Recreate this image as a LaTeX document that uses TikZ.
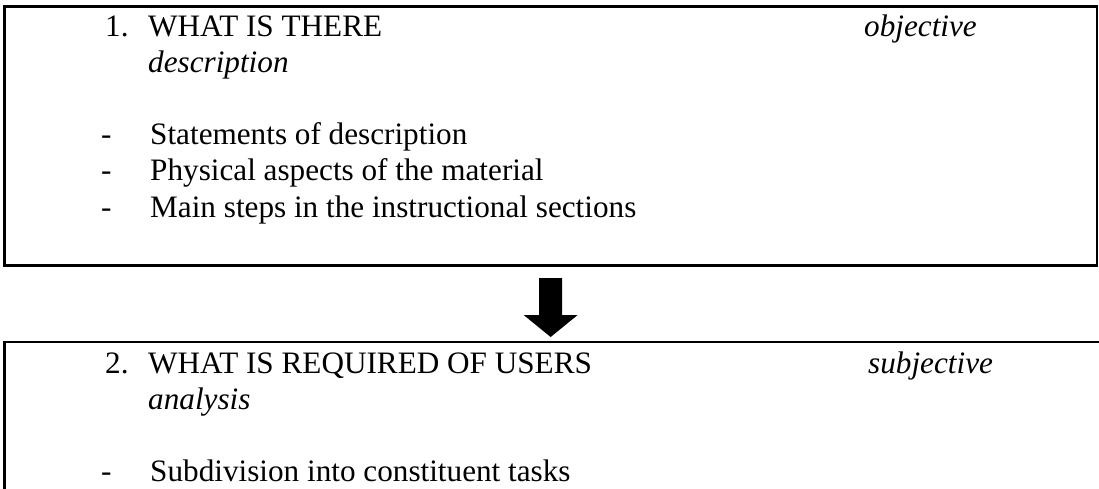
\documentclass[tikz,border=0pt]{standalone}
\usepackage{fontspec}
\setmainfont{Liberation Serif}
\usetikzlibrary{calc}

\tikzset{
    box/.style={draw, line width=2.5pt, inner sep=0pt, outer sep=0pt, anchor=north west},
    txt/.style={anchor=base west, inner sep=0pt, font=\fontsize{31.2}{36}\selectfont},
}

\begin{document}
\begin{tikzpicture}[x=1pt,y=1pt]
\useasboundingbox (0,0) rectangle (1099,-489);

% Upper box: what is there
\node[box, minimum width=1092.7, minimum height=259.2] (box1) at (4.3,-6.3) {};
\node[txt] (num1) at (105,-37) {1.};
\node[txt] (head1) at (148,-37) {WHAT IS THERE};
\node[txt] (obj) at (864,-37) {\itshape objective};
\node[txt] (desc) at (148,-73) {\itshape description};
\node[txt] (dashA) at (101,-145) {-};
\node[txt] (itemA) at (150,-145) {Statements of description};
\node[txt] (dashB) at (101,-181) {-};
\node[txt] (itemB) at (150,-181) {Physical aspects of the material};
\node[txt] (dashC) at (101,-217) {-};
\node[txt] (itemC) at (150,-217) {Main steps in the instructional sections};

% Lower box: what is required (runs past the page)
\node[box, minimum width=1110, minimum height=300] (box2) at (4.3,-342) {};
\node[txt] (num2) at (105,-373) {2.};
\node[txt] (head2) at (148,-373) {WHAT IS REQUIRED OF USERS};
\node[txt] (subj) at (868,-373) {\itshape subjective};
\node[txt] (anal) at (148,-409) {\itshape analysis};
\node[txt] (dashD) at (101,-481) {-};
\node[txt] (itemD) at (150,-481) {Subdivision into constituent tasks};

% Block arrow between the boxes
\coordinate (tail) at ($(box1.south)+(0,-12.5)$);
\coordinate (tip) at ($(tail |- box2.north)+(0,5)$);
\fill (tail) ++(-11.5,0) -- ++(23,0) -- ++(0,-37) -- ++(15.5,0)
    -- (tip) -- ++(-27,22) -- ++(15.5,0) -- cycle;

\end{tikzpicture}
\end{document}
